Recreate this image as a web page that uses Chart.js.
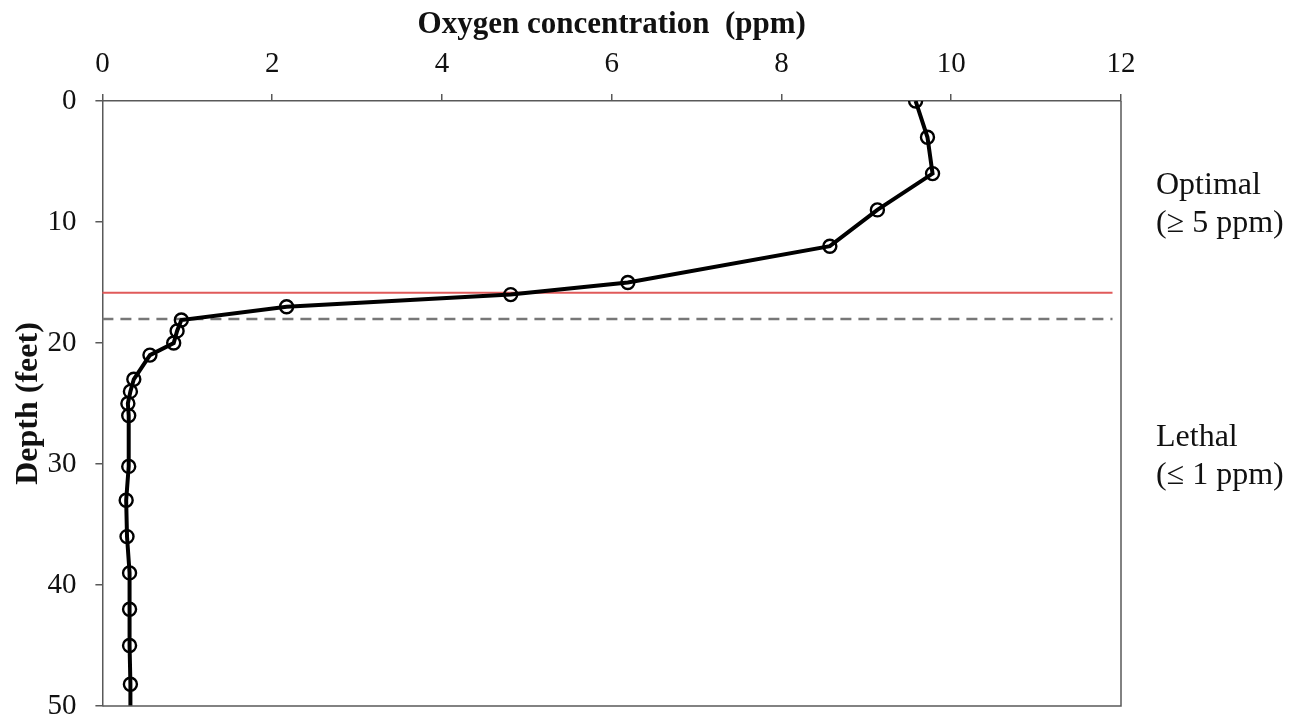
<!DOCTYPE html>
<html>
<head>
<meta charset="utf-8">
<script src="https://cdn.jsdelivr.net/npm/chart.js@4.4.1/dist/chart.umd.min.js"></script>
<style>
  html, body { margin: 0; padding: 0; background: #fff; }
  #wrap { width: 1300px; height: 721px; position: relative; }
</style>
</head>
<body>
<div id="wrap"><canvas id="chartCanvas"></canvas></div>
<script>
// measured profile (depth in feet, oxygen in ppm)
const depthFeet = [0, 3, 6, 9, 12, 15, 16, 17, 18.1, 19, 20, 21, 23, 24, 25, 26, 30.2, 33, 36, 39, 42, 45, 48.2, 51];
const oxygenPpm = [9.58, 9.72, 9.78, 9.13, 8.57, 6.19, 4.81, 2.17, 0.93, 0.88, 0.84, 0.56, 0.37, 0.33, 0.30, 0.31, 0.31, 0.28, 0.29, 0.32, 0.32, 0.32, 0.33, 0.33];
// last point is only there to carry the line down to the bottom edge
const markerRadius = depthFeet.map((d, i) => i === depthFeet.length - 1 ? 0 : 6.5);

// threshold lines
const optimalDepth = [15.85, 15.85];
const optimalX = [-0.05, 11.9];
const lethalDepth = [18.02, 18.02];
const lethalX = [0, 11.9];

const xTicks = [0, 2, 4, 6, 8, 10, 12];
const yTicks = [0, 10, 20, 30, 40, 50];

const zoneLabels = [
    { lines: ["Optimal", "(\u2265 5 ppm)"], depth: 6.95 },
    { lines: ["Lethal", "(\u2264 1 ppm)"], depth: 27.8 },
];

const serif = "'Liberation Serif', 'Times New Roman', serif";
const axisColor = "#595959";

const toPoints = (xs, ys) => xs.map((x, i) => ({ x: x, y: ys[i] }));

// box around the plot + side labels
const framePlugin = {
    id: "frame",
    afterDraw(chart) {
        const { ctx, chartArea } = chart;
        const y = chart.scales.y;
        ctx.save();
        ctx.strokeStyle = axisColor;
        ctx.lineWidth = 1.5;
        ctx.beginPath();
        ctx.moveTo(chartArea.right, chartArea.top);
        ctx.lineTo(chartArea.right, chartArea.bottom);
        ctx.lineTo(chartArea.left, chartArea.bottom);
        ctx.stroke();

        ctx.fillStyle = "#111";
        ctx.font = "32px " + serif;
        ctx.textAlign = "left";
        ctx.textBaseline = "middle";
        zoneLabels.forEach(z => {
            const py = y.getPixelForValue(z.depth);
            z.lines.forEach((t, i) => ctx.fillText(t, chartArea.right + 35, py + i * 38));
        });
        ctx.restore();
    }
};

new Chart(document.getElementById("chartCanvas"), {
    type: "line",
    data: {
        datasets: [
            {
                label: "Optimal limit",
                data: toPoints(optimalX, optimalDepth),
                borderColor: "#e05a5a",
                borderWidth: 2,
                pointRadius: 0,
                order: 3,
            },
            {
                label: "Lethal limit",
                data: toPoints(lethalX, lethalDepth),
                borderColor: "#777777",
                borderWidth: 2.5,
                borderDash: [11, 7],
                pointRadius: 0,
                order: 2,
            },
            {
                label: "Oxygen",
                data: toPoints(oxygenPpm, depthFeet),
                borderColor: "#000",
                borderWidth: 4,
                pointRadius: markerRadius,
                pointBorderWidth: 2.4,
                pointBorderColor: "#000",
                pointBackgroundColor: "rgba(255,255,255,0)",
                tension: 0,
                order: 1,
            },
        ],
    },
    options: {
        responsive: true,
        maintainAspectRatio: false,
        animation: false,
        layout: { padding: { top: 0, right: 179, bottom: 15, left: 3 } },
        plugins: {
            legend: { display: false },
            tooltip: { enabled: false },
        },
        scales: {
            x: {
                type: "linear",
                position: "top",
                min: 0,
                max: 12,
                afterBuildTicks: s => { s.ticks = xTicks.map(v => ({ value: v })); },
                ticks: {
                    color: "#111",
                    font: { family: serif, size: 29 },
                    padding: 12,
                    maxRotation: 0,
                },
                grid: { drawOnChartArea: false, drawTicks: true, tickLength: 7, color: axisColor, lineWidth: 1.5 },
                border: { display: true, color: axisColor, width: 1.5 },
                title: {
                    display: true,
                    text: "Oxygen concentration  (ppm)",
                    color: "#111",
                    font: { family: serif, size: 31, weight: "bold" },
                    padding: { top: 6.5, bottom: -8.5 },
                },
            },
            y: {
                type: "linear",
                reverse: true,
                min: 0,
                max: 50,
                afterBuildTicks: s => { s.ticks = yTicks.map(v => ({ value: v })); },
                // the "50" label may hang into the bottom margin, as in the original
                afterFit: s => { s.paddingBottom = 0; },
                ticks: {
                    color: "#111",
                    font: { family: serif, size: 29 },
                    padding: 19,
                },
                grid: { drawOnChartArea: false, drawTicks: true, tickLength: 7, color: axisColor, lineWidth: 1.5 },
                border: { display: true, color: axisColor, width: 1.5 },
                title: {
                    display: true,
                    text: "Depth (feet)",
                    color: "#111",
                    font: { family: serif, size: 32, weight: "bold" },
                    padding: { top: 7, bottom: -20 },
                },
            },
        },
    },
    plugins: [framePlugin],
});
</script>
</body>
</html>
